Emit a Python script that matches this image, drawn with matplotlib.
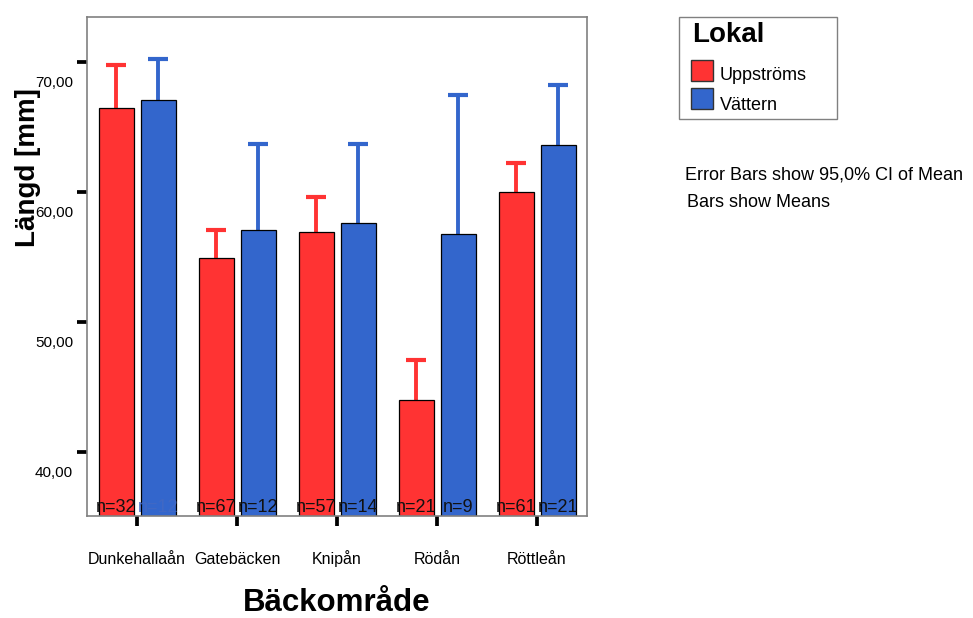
import numpy as np
import matplotlib
matplotlib.use("Agg")
import matplotlib.pyplot as plt
from matplotlib.patches import Rectangle
from matplotlib.transforms import ScaledTranslation, blended_transform_factory

plt.rcParams['font.family'] = ['Liberation Sans', 'DejaVu Sans']

# data
areas = ['Dunkehallaån', 'Gatebäcken', 'Knipån', 'Rödån', 'Röttleån']
groups = ['Uppströms', 'Vättern']
mean_upp = [66.4, 54.9, 56.9, 44.0, 60.0]
mean_vat = [67.05, 57.05, 57.6, 56.75, 63.6]
ci_hi_upp = [69.75, 57.05, 59.6, 47.05, 62.2]
ci_hi_vat = [70.2, 63.7, 63.7, 67.45, 68.2]
n_upp = [32, 67, 57, 21, 61]
n_vat = [12, 12, 14, 9, 21]
yticks = [40, 50, 60, 70]

red = '#FF3333'
blue = '#3366CC'

fig = plt.figure(figsize=(9.73, 6.18), dpi=100)
ax = fig.add_axes([87 / 973, 1 - 516 / 618, 500 / 973, 499.3 / 618])

x = np.arange(len(areas))
off = 0.21
w = 0.35

for means, hi, col, dx in [(mean_upp, ci_hi_upp, red, -off), (mean_vat, ci_hi_vat, blue, off)]:
    means = np.array(means)
    err = np.array(hi) - means
    ax.errorbar(x + dx, means, yerr=err, fmt='none', ecolor=col,
                elinewidth=2.8, capsize=7.5, capthick=3, zorder=1)
    ax.bar(x + dx, means, width=w, color=col, edgecolor='black',
           linewidth=0.9, zorder=2)

# n labels at the bottom of each bar
tr = blended_transform_factory(ax.transData, ax.transAxes)
for i in range(len(areas)):
    ax.text(x[i] - off, 0.017, 'n=%d' % n_upp[i], transform=tr, ha='center',
            va='center', fontsize=13, color='#111111', zorder=3)
    c = '#4068c4' if i == 0 else '#111111'
    ax.text(x[i] + off, 0.017, 'n=%d' % n_vat[i], transform=tr, ha='center',
            va='center', fontsize=13, color=c, zorder=3)

ax.set_xlim(-0.5, len(areas) - 0.5)
ax.set_ylim(35.05, 73.46)

ax.set_yticks(yticks)
ax.set_yticklabels(['%d,00' % v for v in yticks], fontsize=11)
ax.set_xticks(x)
ax.set_xticklabels(areas, fontsize=11.5, va='baseline')
ax.tick_params(axis='y', direction='out', length=7, width=2.7, pad=3)
ax.tick_params(axis='x', direction='out', length=7.5, width=2.7, pad=27)
shift = ScaledTranslation(0, -0.20, fig.dpi_scale_trans)
for lab in ax.get_yticklabels():
    lab.set_transform(lab.get_transform() + shift)

for sp in ax.spines.values():
    sp.set_color('#808080')
    sp.set_linewidth(1.2)

fig.text(28 / 973, 1 - 168 / 618, 'Längd [mm]', rotation=90, ha='center',
         va='center', fontsize=20, fontweight='bold')
fig.text(337 / 973, 1 - 603 / 618, 'Bäckområde', ha='center', va='center',
         fontsize=22.5, fontweight='bold')

# legend box
fig.add_artist(Rectangle((679 / 973, 1 - 119 / 618), 158 / 973, 102 / 618,
                         transform=fig.transFigure, fill=False,
                         edgecolor='#808080', linewidth=1))
fig.text(692 / 973, 1 - 35 / 618, 'Lokal', ha='left', va='center',
         fontsize=20, fontweight='bold')
for lab, col, ys, yt in [(groups[0], red, 60, 75), (groups[1], blue, 88, 106)]:
    fig.add_artist(Rectangle((691 / 973, 1 - (ys + 21) / 618), 22 / 973, 21 / 618,
                             transform=fig.transFigure, facecolor=col,
                             edgecolor='#333333', linewidth=1))
    fig.text(720 / 973, 1 - yt / 618, lab, ha='left', va='center', fontsize=13)

fig.text(685 / 973, 1 - 175 / 618, 'Error Bars show 95,0% CI of Mean',
         ha='left', va='center', fontsize=13)
fig.text(687 / 973, 1 - 203 / 618, 'Bars show Means', ha='left',
         va='center', fontsize=13)

fig.savefig('out.png', dpi=100)
